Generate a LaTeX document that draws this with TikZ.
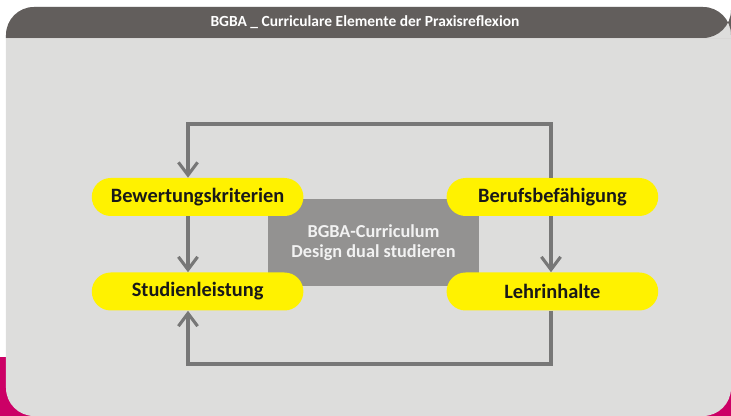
\documentclass[tikz,border=0pt]{standalone}
\usepackage{fontspec}
\setmainfont{Carlito}
\usepackage{tikz}
\usetikzlibrary{shapes,arrows.meta,backgrounds}
\usetikzlibrary{positioning, shapes.geometric}
\definecolor{headgray}{HTML}{625E5C}
\definecolor{panelgray}{HTML}{DDDDDC}
\definecolor{boxgray}{HTML}{939291}
\definecolor{linegray}{HTML}{777777}
\definecolor{magentabar}{HTML}{CC0066}
\tikzset{
  capsY/.style={ rounded rectangle, fill=yellow, minimum width=5.525cm, minimum height=0.95cm, text=black!90, font=\bfseries\fontsize{14.5}{16}\selectfont }
}
\tikzset{
  currbox/.style={ fill=boxgray, minimum width=5.275cm, minimum height=2.175cm, align=center, text=white!95!black, font=\bfseries\fontsize{13}{13.8}\selectfont }
}
\tikzset{
  flowline/.style={ draw=linegray, line width=2.2pt, -{Straight Barb[length=3.2mm, width=4.8mm]} }
}
\begin{document}
\begin{tikzpicture}[y=1cm, x=1cm]
      \useasboundingbox (0,0) rectangle (18.275,10.4);
      % magenta band and the grey panel on top of it
      \fill[magentabar] (0,0) rectangle (18.275,1.475);
      \fill[panelgray, rounded corners=0.7cm] (0.15,0) rectangle (18.275,10.225);
      \fill[headgray] (0.15,9.45) [rounded corners=0.7cm] |- (9,10.225) -| (18.275,9.45) [sharp corners] -- cycle;
      \draw[white!75!headgray, line width=0.6pt] (0.15,9.45) -- (18.275,9.45);
      \node[text=white, font=\bfseries\fontsize{11}{13}\selectfont] (title) at (9.125,9.85) {BGBA \_ Curriculare Elemente der Praxisreflexion};
      % centre box, then the four elements
      \node[currbox] (curr) at (9.3375,4.3375) {BGBA-Curriculum\\Design dual studieren};
      \node[capsY] (bew) at (4.94,5.475) {Bewertungskriterien};
      \node[capsY] (stud) at (4.94,3.1125) {Studienleistung};
      \node[capsY] (beruf) at (13.81,5.475) {Berufsbefähigung};
      \node[capsY] (lehr) at (13.81,3.1125) {Lehrinhalte};
      % corners of the loop
      \coordinate (tl) at (4.7,7.3);
      \coordinate (tr) at (13.775,7.3);
      \coordinate (bl) at (4.7,1.3);
      \coordinate (br) at (13.775,1.3);
      \draw[flowline] (beruf.north -| tr) -- (tr) -- (tl) -- (tl |- bew.north);
      \draw[flowline] (bew.south -| tl) -- (tl |- stud.north);
      \draw[flowline] (beruf.south -| tr) -- (tr |- lehr.north);
      \draw[flowline] (lehr.south -| br) -- (br) -- (bl) -- (bl |- stud.south);
    \end{tikzpicture}
\end{document}
